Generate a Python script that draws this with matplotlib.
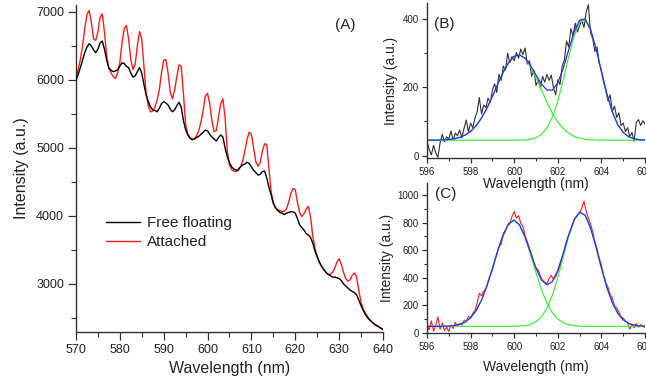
import numpy as np
import matplotlib
matplotlib.use("Agg")
import matplotlib.pyplot as plt
from matplotlib.ticker import MultipleLocator

plt.rcParams["font.family"] = ["Liberation Sans", "DejaVu Sans"]

# ---- Panel A : full spectra, 570-640 nm every 0.5 nm
wl_a = np.linspace(570, 640, 141)
free_floating = [
    5990, 6080, 6180, 6290, 6400, 6480, 6530, 6500, 6440, 6400,
    6450, 6540, 6570, 6450, 6290, 6170, 6140, 6120, 6130, 6150,
    6200, 6250, 6240, 6200, 6180, 6100, 6040, 6060, 6120, 6180,
    6100, 5930, 5780, 5680, 5600, 5560, 5550, 5530, 5580, 5650,
    5680, 5660, 5630, 5570, 5530, 5560, 5620, 5670, 5600, 5400,
    5270, 5190, 5140, 5120, 5130, 5150, 5170, 5200, 5230, 5260,
    5250, 5200, 5160, 5130, 5100, 5150, 5190, 5160, 5000, 4870,
    4780, 4720, 4690, 4670, 4680, 4720, 4750, 4760, 4790, 4770,
    4720, 4670, 4640, 4600, 4610, 4650, 4660, 4560, 4420, 4310,
    4180, 4120, 4080, 4050, 4040, 4020, 4040, 4050, 4060, 4060,
    4040, 3960, 3870, 3830, 3790, 3740, 3720, 3680, 3600, 3480,
    3400, 3320, 3260, 3210, 3170, 3140, 3120, 3100, 3100, 3090,
    3080, 3050, 3000, 2970, 2940, 2910, 2890, 2870, 2840, 2760,
    2680, 2610, 2550, 2500, 2470, 2440, 2410, 2390, 2370, 2350,
    2330,
]
attached = [
    6010, 6150, 6300, 6500, 6750, 6960, 7020, 6850, 6600, 6580,
    6700, 6920, 6970, 6700, 6350, 6180, 6100, 6050, 6020, 6100,
    6250, 6550, 6750, 6800, 6600, 6300, 6150, 6230, 6500, 6710,
    6600, 6200, 5800, 5620, 5530, 5540, 5600, 5700, 5850, 6100,
    6290, 6300, 6100, 5820, 5720, 5850, 6050, 6220, 6200, 5800,
    5350, 5200, 5150, 5130, 5130, 5180, 5250, 5380, 5550, 5760,
    5800, 5650, 5400, 5240, 5250, 5450, 5650, 5720, 5450, 4950,
    4750, 4680, 4660, 4650, 4670, 4720, 4800, 4950, 5120, 5230,
    5200, 5000, 4800, 4730, 4780, 4950, 5060, 5050, 4700, 4350,
    4200, 4120, 4090, 4080, 4060, 4070, 4100, 4200, 4330, 4400,
    4390, 4200, 4050, 3990, 4030, 4100, 4140, 3980, 3700, 3520,
    3400, 3320, 3260, 3210, 3170, 3140, 3140, 3170, 3230, 3320,
    3370, 3290, 3170, 3080, 3040, 3060, 3130, 3160, 3100, 2900,
    2730, 2630, 2570, 2520, 2470, 2440, 2410, 2390, 2370, 2350,
    2330,
]

# ---- Panels B and C : zoom 596-606 nm, data every 0.1 nm
wl_zoom = np.linspace(596, 606, 101)
free_zoom = [
    42, 18, 2, 30, 8, -5, 38, 62, 40, 55,
    48, 72, 45, 66, 58, 75, 52, 80, 104, 70,
    95, 82, 110, 128, 170, 122, 148, 140, 168, 155,
    192, 210, 185, 238, 220, 262, 250, 300, 272, 290,
    278, 302, 285, 312, 296, 315, 268, 278, 232, 250,
    205, 222, 196, 232, 215, 238, 220, 236, 198, 178,
    222, 208, 262, 280, 335, 318, 372, 350, 388, 362,
    380, 398, 375, 420, 442, 360, 342, 305, 318, 270,
    248, 215, 190, 160, 178, 128, 145, 112, 125, 88,
    95, 70, 82, 55, 68, 42, 98, 105, 88, 102,
    92,
]
attached_zoom = [
    60, 20, 85, 10, 50, 115, 25, 70, 15, 40,
    8, 55, 30, 75, 45, 68, 55, 90, 78, 118,
    110, 140, 160, 215, 285, 268, 300, 320, 372, 415,
    455, 520, 568, 625, 640, 705, 735, 778, 790, 845,
    880, 832, 850, 795, 770, 705, 660, 610, 565, 505,
    470, 455, 410, 382, 365, 355, 392, 415, 388, 405,
    445, 480, 550, 600, 665, 705, 745, 790, 835, 850,
    868, 905, 955, 880, 832, 790, 735, 660, 610, 540,
    490, 418, 365, 330, 280, 250, 195, 180, 150, 118,
    105, 85, 70, 25, 60, 35, 65, 40, 58, 45,
    38,
]

# fitted curves, read every 0.25 nm
wl_fit = np.linspace(596, 606, 41)
fit_b_peak1 = [
    45.1, 45.2, 45.4, 45.9, 47.1, 49.2, 53.2, 60.1, 71.0, 87.4,
    110.0, 139.0, 173.2, 209.8, 244.7, 273.2, 290.8, 294.6, 283.9, 260.6,
    228.5, 192.2, 156.3, 124.3, 98.3, 78.8, 65.2, 56.4, 51.0, 48.0,
    46.4, 45.6, 45.3, 45.1, 45.0, 45.0, 45.0, 45.0, 45.0, 45.0,
    45.0,
]
fit_b_peak2 = [
    45.0, 45.0, 45.0, 45.0, 45.0, 45.0, 45.0, 45.0, 45.0, 45.0,
    45.0, 45.0, 45.0, 45.0, 45.0, 45.0, 45.1, 45.3, 46.0, 47.9,
    52.4, 62.1, 80.8, 112.5, 159.9, 221.6, 289.8, 351.2, 390.7, 397.2,
    368.7, 313.5, 246.0, 180.7, 127.7, 90.5, 67.6, 55.1, 49.1, 46.5,
    45.5,
]
fit_b_sum = [
    45.1, 45.2, 45.4, 45.9, 47.1, 49.2, 53.2, 60.1, 71.0, 87.4,
    110.0, 139.0, 173.2, 209.8, 244.7, 273.2, 290.9, 294.9, 284.9, 263.5,
    235.9, 209.3, 192.1, 191.8, 213.2, 255.4, 310.0, 362.6, 396.7, 400.2,
    370.1, 314.1, 246.3, 180.8, 127.7, 90.5, 67.6, 55.1, 49.1, 46.5,
    45.5,
]
fit_c_peak1 = [
    45.0, 45.1, 45.3, 46.0, 47.6, 51.5, 60.0, 77.0, 108.0, 159.4,
    236.3, 340.4, 465.6, 597.4, 714.4, 793.2, 816.6, 778.9, 689.0, 566.3,
    434.2, 313.0, 215.3, 144.8, 99.0, 71.9, 57.4, 50.3, 47.1, 45.7,
    45.2, 45.0, 45.0, 45.0, 45.0, 45.0, 45.0, 45.0, 45.0, 45.0,
    45.0,
]
fit_c_peak2 = [
    45.0, 45.0, 45.0, 45.0, 45.0, 45.0, 45.0, 45.0, 45.0, 45.0,
    45.0, 45.0, 45.0, 45.0, 45.0, 45.2, 45.7, 47.1, 50.8, 59.6,
    78.3, 114.4, 176.4, 271.2, 399.3, 549.9, 699.5, 816.7, 872.7, 852.6,
    761.8, 623.7, 470.0, 328.9, 217.6, 140.4, 93.0, 66.9, 54.1, 48.5,
    46.2,
]
fit_c_sum = [
    45.0, 45.1, 45.3, 46.0, 47.6, 51.5, 60.0, 77.0, 108.0, 159.4,
    236.3, 340.4, 465.6, 597.4, 714.4, 793.4, 817.3, 781.0, 694.8, 580.9,
    467.5, 382.4, 346.7, 371.0, 453.3, 576.8, 711.9, 822.0, 874.8, 853.3,
    762.0, 623.7, 470.0, 328.9, 217.6, 140.4, 93.0, 66.9, 54.1, 48.5,
    46.2,
]

RED = "#ff1a1a"
BLUE = "#2a2aff"
GREEN = "#3ef03e"
INK = "#222222"


def style_axes(ax, tick_size, major_len, minor_len):
    for side in ("top", "right"):
        ax.spines[side].set_visible(False)
    for side in ("left", "bottom"):
        ax.spines[side].set_color("#333333")
        ax.spines[side].set_linewidth(1.0)
    ax.tick_params(which="major", direction="out", length=major_len,
                   width=0.9, labelsize=tick_size, colors="#333333",
                   labelcolor=INK, pad=2.5)
    ax.tick_params(which="minor", direction="out", length=minor_len,
                   width=0.8, colors="#333333")
    ax.patch.set_visible(False)


fig = plt.figure(figsize=(6.46, 3.82), dpi=100)

# Panel A
ax_a = fig.add_axes([0.1176, 0.1309, 0.4752, 0.856])
ax_a.plot(wl_a, free_floating, color="black", lw=1.0, label="Free floating")
ax_a.plot(wl_a, attached, color=RED, lw=1.0, label="Attached")
# keep black on top where the curves overlap
ax_a.lines[0].set_zorder(3)
ax_a.set_xlim(570, 640)
ax_a.set_ylim(2293, 7100)
ax_a.xaxis.set_major_locator(MultipleLocator(10))
ax_a.xaxis.set_minor_locator(MultipleLocator(5))
ax_a.yaxis.set_major_locator(MultipleLocator(1000))
ax_a.yaxis.set_minor_locator(MultipleLocator(500))
style_axes(ax_a, 9, 6, 3.5)
ax_a.set_xlabel("Wavelength (nm)", fontsize=11.5, color=INK, labelpad=4)
ax_a.set_ylabel("Intensity (a.u.)", fontsize=11.5, color=INK, labelpad=5)
ax_a.text(0.876, 0.939, "(A)", transform=ax_a.transAxes, fontsize=11,
          ha="center", va="center", color=INK)
ax_a.legend(loc="upper left", bbox_to_anchor=(0.078, 0.372), frameon=False,
            fontsize=11, handlelength=2.2, handletextpad=0.45,
            labelspacing=0.3, borderaxespad=0.0, labelcolor=INK)

# Panel B
ax_b = fig.add_axes([0.661, 0.5856, 0.3375, 0.4058])
ax_b.plot(wl_zoom, free_zoom, color="#303030", lw=0.8)
ax_b.plot(wl_fit, fit_b_peak1, color=GREEN, lw=0.9)
ax_b.plot(wl_fit, fit_b_peak2, color=GREEN, lw=0.9)
ax_b.plot(wl_fit, fit_b_sum, color=BLUE, lw=0.9)
ax_b.set_xlim(596, 606)
ax_b.set_ylim(-8, 446)
ax_b.xaxis.set_major_locator(MultipleLocator(2))
ax_b.xaxis.set_minor_locator(MultipleLocator(1))
ax_b.yaxis.set_major_locator(MultipleLocator(200))
ax_b.yaxis.set_minor_locator(MultipleLocator(100))
style_axes(ax_b, 7, 3.5, 2)
ax_b.set_xlabel("Wavelength (nm)", fontsize=10, color=INK, labelpad=0)
ax_b.set_ylabel("Intensity (a.u.)", fontsize=10, color=INK, labelpad=3)
ax_b.text(0.08, 0.865, "(B)", transform=ax_b.transAxes, fontsize=11,
          ha="center", va="center", color=INK)

# Panel C
ax_c = fig.add_axes([0.661, 0.1275, 0.3375, 0.3927])
ax_c.plot(wl_zoom, attached_zoom, color=RED, lw=0.8)
ax_c.plot(wl_fit, fit_c_peak1, color=GREEN, lw=0.9)
ax_c.plot(wl_fit, fit_c_peak2, color=GREEN, lw=0.9)
ax_c.plot(wl_fit, fit_c_sum, color=BLUE, lw=0.9)
ax_c.set_xlim(596, 606)
ax_c.set_ylim(-5, 1085)
ax_c.xaxis.set_major_locator(MultipleLocator(2))
ax_c.xaxis.set_minor_locator(MultipleLocator(1))
ax_c.yaxis.set_major_locator(MultipleLocator(200))
ax_c.yaxis.set_minor_locator(MultipleLocator(100))
style_axes(ax_c, 7, 3.5, 2)
ax_c.set_xlabel("Wavelength (nm)", fontsize=10, color=INK, labelpad=6)
ax_c.set_ylabel("Intensity (a.u.)", fontsize=10, color=INK, labelpad=2)
ax_c.text(0.087, 0.93, "(C)", transform=ax_c.transAxes, fontsize=11,
          ha="center", va="center", color=INK)

fig.savefig("out.png", dpi=100)
